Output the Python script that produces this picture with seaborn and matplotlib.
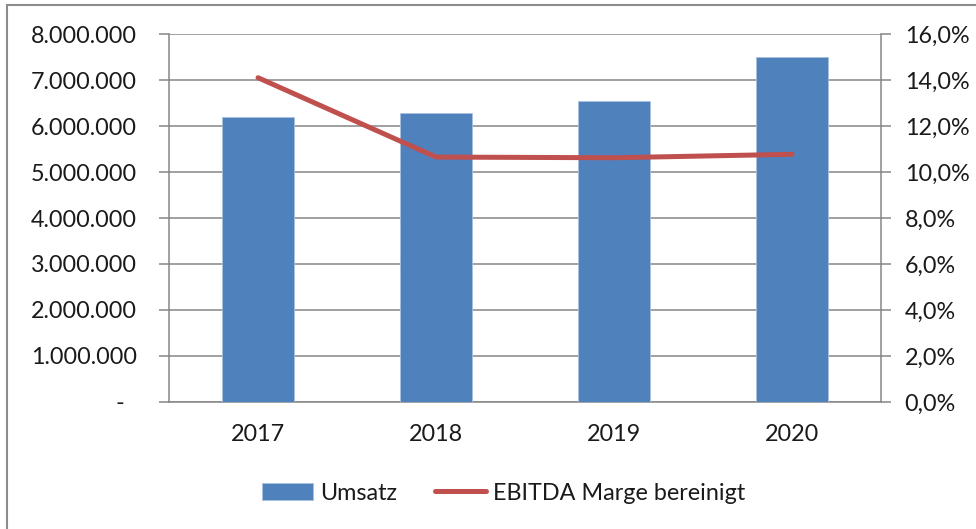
import matplotlib
matplotlib.use("Agg")
import matplotlib.pyplot as plt
import seaborn as sns
from matplotlib.patches import Patch, Rectangle
from matplotlib.lines import Line2D
from matplotlib.ticker import FuncFormatter, FixedLocator

# data
years = ["2017", "2018", "2019", "2020"]
umsatz = [6200000, 6290000, 6540000, 7490000]
ebitda_marge = [14.1, 10.65, 10.62, 10.77]

bar_color = "#4F81BD"
line_color = "#C0504D"
axis_gray = "#868686"
text_color = "#1a1a1a"

sns.set_style("white")
plt.rcParams["font.family"] = ["Lato", "DejaVu Sans"]
plt.rcParams["font.size"] = 16.8

fig = plt.figure(figsize=(9.76, 5.29), dpi=100)
ax = fig.add_axes([0.1732, 0.2401, 0.7295, 0.6956])

# bars for revenue
sns.barplot(x=years, y=umsatz, ax=ax, color=bar_color, width=0.4,
            saturation=1, edgecolor="#a9c0dd", linewidth=0.6, zorder=3)
ax.set_ylim(0, 8000000)
ax.set_xlim(-0.5, 3.5)
ax.yaxis.set_major_locator(FixedLocator(range(0, 8000001, 1000000)))


def de_int(v, pos):
    if v == 0:
        return "-  "
    return f"{int(v):,}".replace(",", ".")


ax.yaxis.set_major_formatter(FuncFormatter(de_int))
ax.grid(axis="y", color=axis_gray, linewidth=1.1, zorder=0)
ax.set_axisbelow(True)

# category boundary ticks on the x axis
ax.set_xticks([-0.5, 0.5, 1.5, 2.5, 3.5], minor=True)
ax.tick_params(axis="x", which="minor", length=7, width=1.1, color=axis_gray, direction="out")
ax.tick_params(axis="x", which="major", length=0, pad=16, labelcolor=text_color)
ax.tick_params(axis="y", length=7, width=1.1, color=axis_gray, direction="out",
               pad=16, labelcolor=text_color)
ax.set_xlabel("")
ax.set_ylabel("")

# line for EBITDA margin on the secondary axis
ax2 = ax.twinx()
sns.pointplot(x=years, y=ebitda_marge, ax=ax2, color=line_color, markers="",
              linestyles="-", linewidth=3.6, errorbar=None)
ax2.set_xlim(-0.5, 3.5)
ax2.set_ylim(0, 16)
ax2.yaxis.set_major_locator(FixedLocator(range(0, 17, 2)))
ax2.yaxis.set_major_formatter(FuncFormatter(lambda v, p: f"{v:.1f}%".replace(".", ",")))
ax2.tick_params(axis="y", length=7, width=1.1, color=axis_gray, direction="out",
                pad=10, labelcolor=text_color)
ax2.set_ylabel("")
ax2.grid(False)
for l in ax2.lines:
    l.set_solid_capstyle("round")

for a in (ax, ax2):
    for side in ("left", "right", "bottom"):
        a.spines[side].set_color(axis_gray)
        a.spines[side].set_linewidth(1.1)
    a.spines["top"].set_visible(False)
ax.spines["right"].set_visible(False)
ax2.spines["left"].set_visible(False)
ax2.spines["bottom"].set_visible(False)

handles = [
    Patch(facecolor=bar_color, edgecolor="#a9c0dd", linewidth=0.6, label="Umsatz"),
    Line2D([0], [0], color=line_color, linewidth=3.6, label="EBITDA Marge bereinigt"),
]
fig.legend(handles=handles, loc="center", bbox_to_anchor=(0.516, 0.068), ncol=2,
           frameon=False, handlelength=2.2, handleheight=0.7, handletextpad=0.3,
           columnspacing=1.6, labelcolor=text_color)

# outer chart frame (left and top visible as in the screenshot)
fig.patches.append(Rectangle((7 / 976, -0.05), 1.5, 1.05 - 5 / 529,
                             transform=fig.transFigure, fill=False,
                             edgecolor="#8c8c8c", linewidth=1.5))

fig.savefig("out.png", dpi=100)
